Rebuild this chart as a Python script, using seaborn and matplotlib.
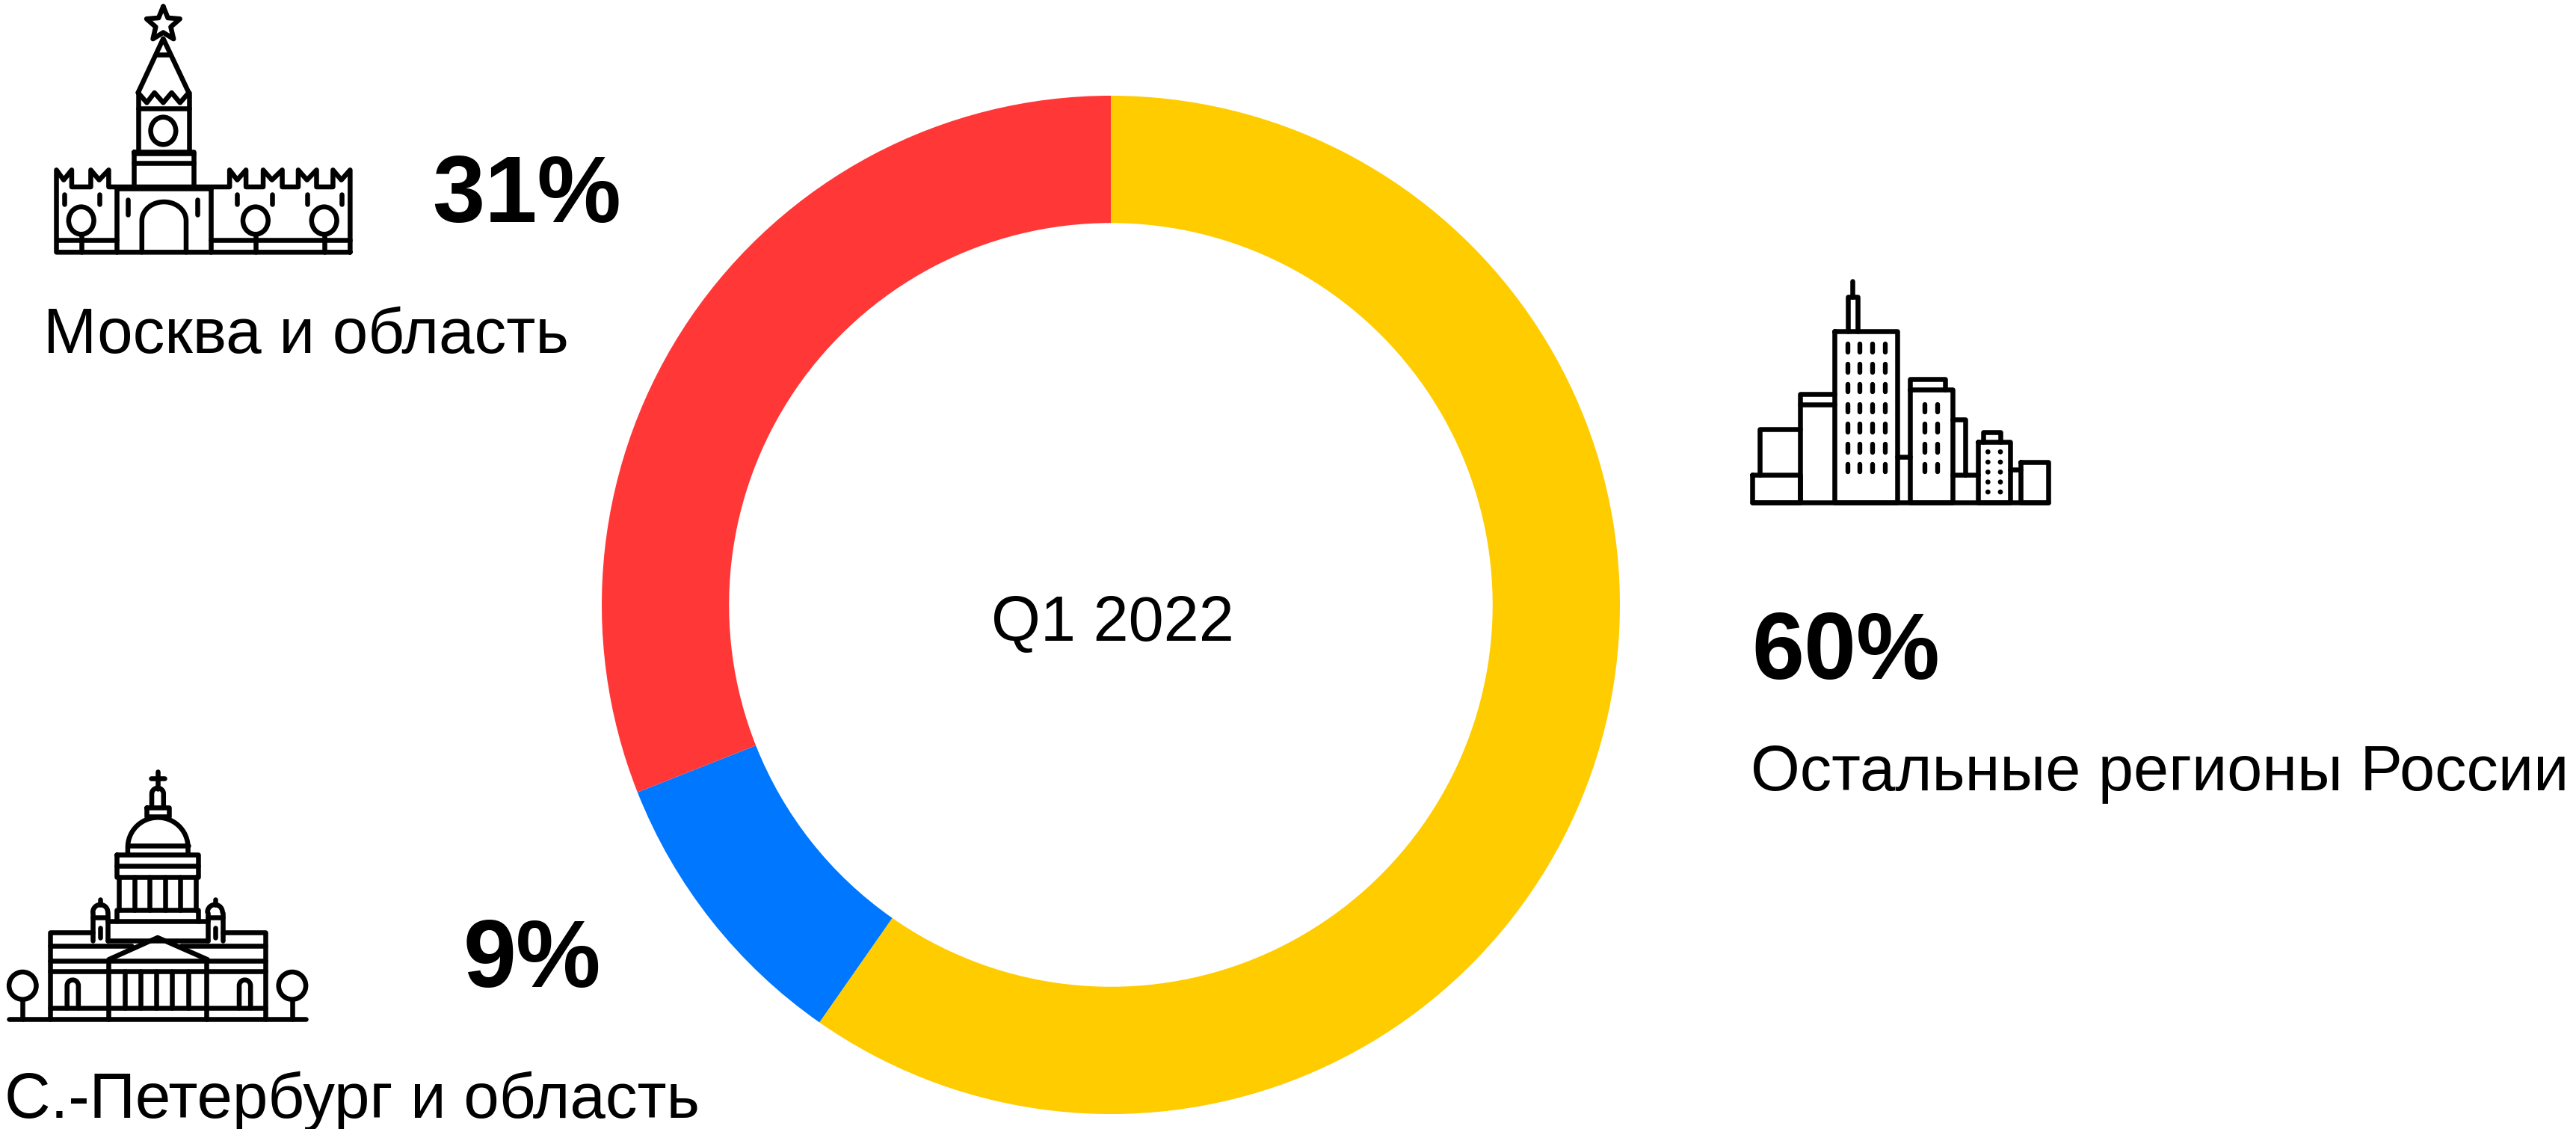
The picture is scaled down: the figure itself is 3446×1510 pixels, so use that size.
import numpy as np
import matplotlib
matplotlib.use("Agg")
import matplotlib.pyplot as plt
from matplotlib.patches import Ellipse
import seaborn as sns

regions = ["Остальные регионы России", "С.-Петербург и область", "Москва и область"]
shares = [59.7, 9.3, 31]
share_labels = ["60%", "9%", "31%"]
center_label = "Q1 2022"
colors = ["#FFCC00", "#0077FF", "#FF3737"]

sns.set_theme(style="white")
plt.rcParams["font.family"] = ["Liberation Sans", "DejaVu Sans"]
plt.rcParams["text.color"] = "black"

W, H = 3446, 1510
LW = 4.7


def line(ax, t, pts, lw=LW):
    xs = [t[0] + p[0] / t[2] for p in pts]
    ys = [t[1] + p[1] / t[3] for p in pts]
    ax.plot(xs, ys, color="black", lw=lw, solid_capstyle="round", solid_joinstyle="round")


def rect(ax, t, x0, y0, x1, y1):
    line(ax, t, [(x0, y0), (x1, y0), (x1, y1), (x0, y1), (x0, y0)])


def oval(ax, t, cx, cy, rx, ry, fill=False):
    ax.add_patch(
        Ellipse(
            (t[0] + cx / t[2], t[1] + cy / t[3]),
            2 * rx / t[2],
            2 * ry / t[3],
            fill=fill,
            color="black",
            lw=0 if fill else LW,
        )
    )


def arch(ax, t, x0, x1, y_spring, y_top, y_bottom):
    a = np.linspace(np.pi, 0, 40)
    cx = (x0 + x1) / 2
    pts = [(x0, y_bottom)]
    pts += list(zip(cx + (x1 - x0) / 2 * np.cos(a), y_spring - (y_spring - y_top) * np.sin(a)))
    pts += [(x1, y_bottom)]
    line(ax, t, pts)


def draw_kremlin(ax):
    # coordinates
    t = (0, 0, 1.96, 3)
    a = np.pi / 2 + np.arange(11) * np.pi / 5
    r = np.where(np.arange(11) % 2 == 0, 1.0, 0.45)
    line(ax, t, list(zip(428 + 46 * r * np.cos(a), 98 - 72 * r * np.sin(a))))
    line(ax, t, [(362, 372), (428, 155), (495, 372)])
    line(ax, t, [(412, 218), (444, 218)])
    line(ax, t, [(362, 372), (362, 608)])
    line(ax, t, [(495, 372), (495, 608)])
    line(ax, t, [(362, 372), (385, 412), (405, 372), (428, 412), (450, 372), (472, 412), (495, 372)])
    line(ax, t, [(362, 436), (495, 436)])
    oval(ax, t, 428, 525, 33, 55)
    rect(ax, t, 350, 610, 507, 750)
    line(ax, t, [(350, 655), (507, 655)])
    line(ax, t, [(350, 615), (507, 615)])
    # wall with merlons
    ytop, ywall, ynotch = 682, 750, 722
    line(ax, t, [(918, 1012), (918, ytop), (895, ynotch), (873, ytop), (873, ywall), (830, ywall),
                 (830, ytop), (805, ynotch), (782, ytop), (782, ywall), (740, ywall), (740, ytop),
                 (713, ynotch), (690, ytop), (690, ywall), (645, ywall), (645, ytop), (622, ynotch),
                 (602, ytop), (602, ywall), (285, ywall), (285, ytop), (260, ynotch), (238, ytop),
                 (238, ywall), (188, ywall), (188, ytop), (167, ynotch), (148, ytop), (148, 1012),
                 (918, 1012)])
    line(ax, t, [(305, 755), (305, 1012)])
    line(ax, t, [(552, 755), (552, 1012)])
    line(ax, t, [(305, 755), (552, 755)])
    arch(ax, t, 372, 488, 885, 810, 1012)
    line(ax, t, [(148, 962), (305, 962)])
    line(ax, t, [(552, 962), (918, 962)])
    for x in [168, 260, 622, 714, 805, 895]:
        line(ax, t, [(x, 780), (x, 820)])
    for x in [336, 518]:
        line(ax, t, [(x, 800), (x, 860)])
    for x in [213, 670, 850]:
        oval(ax, t, x, 885, 33, 55)
        line(ax, t, [(x, 940), (x, 1012)])


def draw_cathedral(ax):
    t = (0, 1000, 1.65, 3)
    line(ax, t, [(20, 1090), (675, 1090)])
    for x in [50, 645]:
        oval(ax, t, x, 955, 30, 55)
        line(ax, t, [(x, 1010), (x, 1090)])
    line(ax, t, [(110, 1090), (110, 740), (205, 740)])
    line(ax, t, [(585, 1090), (585, 740), (492, 740)])
    line(ax, t, [(110, 795), (290, 795)])
    line(ax, t, [(400, 795), (585, 795)])
    line(ax, t, [(110, 855), (585, 855)])
    line(ax, t, [(110, 897), (585, 897)])
    line(ax, t, [(110, 1045), (585, 1045)])
    line(ax, t, [(240, 850), (348, 762), (458, 850)])
    line(ax, t, [(240, 855), (240, 1090)])
    line(ax, t, [(456, 855), (456, 1090)])
    for x in [275, 310, 345, 380, 415]:
        line(ax, t, [(x, 897), (x, 1045)])
    for x0, x1 in [(148, 173), (528, 553)]:
        arch(ax, t, x0, x1, 955, 932, 1045)
    for x0, x1 in [(205, 238), (458, 491)]:
        line(ax, t, [(x0, 775), (x0, 662)])
        line(ax, t, [(x1, 775), (x1, 662)])
        arch(ax, t, x0, x1, 660, 630, 660)
        line(ax, t, [(x0, 682), (x1, 682)])
        line(ax, t, [((x0 + x1) / 2, 630), ((x0 + x1) / 2, 608)])
        line(ax, t, [((x0 + x1) / 2, 722), ((x0 + x1) / 2, 762)])
    line(ax, t, [(238, 775), (458, 775)])
    line(ax, t, [(238, 695), (458, 695)])
    line(ax, t, [(258, 695), (258, 650), (438, 650), (438, 695)])
    for x in [262, 297, 330, 365, 398, 432]:
        line(ax, t, [(x, 520), (x, 650)])
    rect(ax, t, 258, 428, 438, 518)
    line(ax, t, [(258, 473), (438, 473)])
    arch(ax, t, 282, 415, 400, 280, 428)
    line(ax, t, [(282, 392), (415, 392)])
    rect(ax, t, 323, 240, 373, 275)
    arch(ax, t, 335, 361, 185, 162, 240)
    line(ax, t, [(348, 97), (348, 165)])
    line(ax, t, [(333, 122), (363, 122)])


def draw_city(ax):
    t = (2300, 350, 3, 3)
    line(ax, t, [(133, 965), (1320, 965)])
    rect(ax, t, 133, 855, 323, 965)
    line(ax, t, [(163, 855), (163, 673), (323, 673)])
    line(ax, t, [(323, 965), (323, 530), (463, 530)])
    line(ax, t, [(323, 572), (463, 572)])
    rect(ax, t, 463, 280, 715, 965)
    line(ax, t, [(515, 280), (515, 140), (555, 140), (555, 280)])
    line(ax, t, [(535, 140), (535, 78)])
    line(ax, t, [(715, 783), (765, 783)])
    rect(ax, t, 765, 512, 937, 965)
    line(ax, t, [(765, 512), (765, 472), (907, 472), (907, 512)])
    line(ax, t, [(937, 632), (987, 632), (987, 855)])
    line(ax, t, [(937, 855), (1037, 855)])
    rect(ax, t, 1037, 723, 1168, 965)
    line(ax, t, [(1058, 723), (1058, 683), (1128, 683), (1128, 723)])
    line(ax, t, [(1168, 833), (1208, 833)])
    rect(ax, t, 1208, 803, 1320, 965)
    for x in [515, 565, 615, 665]:
        for y in [347, 427, 507, 588, 668, 748, 828]:
            line(ax, t, [(x, y - 16), (x, y + 16)], lw=4.6)
    for x in [826, 877]:
        for y in [588, 668, 748, 828]:
            line(ax, t, [(x, y - 16), (x, y + 16)], lw=4.6)
    for x in [1078, 1128]:
        for y in [763, 804, 844, 884, 924]:
            oval(ax, t, x, y, 10, 10, fill=True)


fig = plt.figure(figsize=(W / 100, H / 100), dpi=100, facecolor="white")

# ring
cx, cy, rad = 1486, 809, 681
ring = fig.add_axes([(cx - rad) / W, 1 - (cy + rad) / H, 2 * rad / W, 2 * rad / H])
ring.pie(
    shares,
    colors=colors,
    startangle=90,
    counterclock=False,
    radius=1,
    wedgeprops={"width": 0.25, "linewidth": 0},
)
ring.set_xlim(-1, 1)
ring.set_ylim(-1, 1)

# overlay in pixel coordinates for icons and captions
ax = fig.add_axes([0, 0, 1, 1])
ax.set_xlim(0, W)
ax.set_ylim(H, 0)
ax.axis("off")
ax.patch.set_alpha(0)

draw_kremlin(ax)
draw_cathedral(ax)
draw_city(ax)

ax.text(1488, 857, center_label, fontsize=61, ha="center", va="baseline")

ax.text(2343, 908, share_labels[0], fontsize=90.5, fontweight="bold", va="baseline")
ax.text(2342, 1057, regions[0], fontsize=60.9, va="baseline")
ax.text(620, 1320, share_labels[1], fontsize=92, fontweight="bold", va="baseline")
ax.text(6, 1495, regions[1], fontsize=61.4, va="baseline")
ax.text(578, 297, share_labels[2], fontsize=91, fontweight="bold", va="baseline")
ax.text(58, 472, regions[2], fontsize=61.5, va="baseline")

fig.savefig("out.png", dpi=100)
